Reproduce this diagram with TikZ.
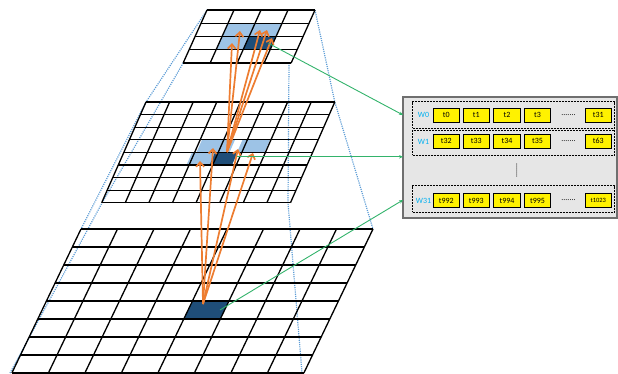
\documentclass[tikz,border=0pt]{standalone}
\usepackage{fontspec}
\setmainfont{Carlito}
\usetikzlibrary{arrows.meta}
\definecolor{lb}{HTML}{9DC3E6}
\definecolor{db}{HTML}{1F4E79}
\definecolor{org}{HTML}{ED7D31}
\definecolor{grn}{HTML}{33B36B}
\definecolor{dotb}{HTML}{5B9BD5}
\definecolor{wlab}{HTML}{00B0F0}
\definecolor{boxg}{HTML}{E6E6E6}
\definecolor{boxb}{HTML}{6F6F6F}
\newcommand{\slgrid}[7]{%
 \foreach \i in {0,...,#7}{\draw[gridline] ({#1-#5*\i*#4},{#2+\i*#4}) -- ({#1-#5*\i*#4+#6*#3},{#2+\i*#4});}
 \foreach \j in {0,...,#6}{\draw[gridline] ({#1+\j*#3},{#2}) -- ({#1+\j*#3-#5*#7*#4},{#2+#7*#4});}
}
\newcommand{\slcell}[8]{%
 \fill[#1] ({#2+#7*#4-#6*#8*#5},{#3+#8*#5}) -- ({#2+(#7+1)*#4-#6*#8*#5},{#3+#8*#5}) -- ({#2+(#7+1)*#4-#6*(#8+1)*#5},{#3+(#8+1)*#5}) -- ({#2+#7*#4-#6*(#8+1)*#5},{#3+(#8+1)*#5}) -- cycle;}
\begin{document}
\begin{tikzpicture}[x=1pt,y=-1pt,
  gridline/.style={line width=1.3pt,black},
  dotline/.style={dotb,line width=1.2pt,dash pattern=on 1.1pt off 1.1pt},
  orarrow/.style={org,line width=1.7pt,-{Straight Barb[length=4.5pt,width=8pt]}},
  grarrow/.style={grn,line width=0.9pt,-{Stealth[length=4pt,width=3.5pt]}},
  outerbox/.style={draw=boxb,fill=boxg,line width=1.3pt,minimum width=214pt,minimum height=121pt,inner sep=0pt},
  rowbox/.style={draw=black,dashed,line width=0.9pt,dash pattern=on 2pt off 1pt,minimum width=202pt,inner sep=0pt},
  tbox/.style={draw=black,fill=yellow,line width=0.9pt,minimum width=26.3pt,minimum height=14pt,inner sep=0pt,font=\fontsize{8}{9}\selectfont},
  wlabel/.style={text=wlab,inner sep=0pt,font=\fontsize{8}{9}\selectfont},
  dotstext/.style={inner sep=0pt,font=\fontsize{8}{9}\selectfont}]
\useasboundingbox (0,0) rectangle (618,373);
% pyramid corner coordinates
\coordinate (tTL) at (207,10);  \coordinate (tTR) at (315,10);
\coordinate (tBL) at (183.2,63); \coordinate (tBR) at (289,63);
\coordinate (mTL) at (146,102); \coordinate (mTR) at (334.8,102);
\coordinate (mBL) at (102,203); \coordinate (mBR) at (288,203);
\coordinate (bTL) at (81,229);  \coordinate (bTR) at (373,229);
\coordinate (bBL) at (10,373);  \coordinate (bBR) at (302,373);
% dotted pyramid lines
\draw[dotline] (tTL) -- (mTL) -- (bTL);
\draw[dotline] (tBL) -- (mBL) -- (bBL);
\draw[dotline] (tTR) -- (mTR) -- (bTR);
\draw[dotline] (tBR) -- (mBR) -- (bBR);
% highlights top grid
\slcell{lb}{207}{10}{27}{13.25}{0.45}{1}{1}
\slcell{lb}{207}{10}{27}{13.25}{0.45}{2}{1}
\slcell{lb}{207}{10}{27}{13.25}{0.45}{1}{2}
\slcell{db}{207}{10}{27}{13.25}{0.45}{2}{2}
% highlights middle grid
\fill[lb] (202,139.8) -- (235,139.8) -- (229.5,152.4) -- (196.5,152.4) -- cycle;
\fill[lb] (242.5,139.8) -- (270,139.8) -- (264.5,152.4) -- (237,152.4) -- cycle;
\fill[lb] (192,152.4) -- (215,152.4) -- (209.5,165) -- (186.5,165) -- cycle;
\fill[db] (215,152.4) -- (237.5,152.4) -- (232,165) -- (209.5,165) -- cycle;
% highlight bottom grid
\slcell{db}{81}{229}{36.5}{18}{0.48}{4}{4}
% grids
\slgrid{207}{10}{27}{13.25}{0.45}{4}{4}
\slgrid{146}{102}{23.6}{12.6}{0.44}{8}{8}
\slgrid{81}{229}{36.5}{18}{0.48}{8}{8}
% orange arrows
\coordinate (bt) at (203,304);
\coordinate (mt) at (227,152);
\coordinate (m1) at (200,161);
\coordinate (m2) at (213,148);
\coordinate (m3) at (238,149);
\coordinate (m4) at (253,153);
\coordinate (t1) at (240,31);
\coordinate (t2) at (232,43);
\coordinate (t3) at (260,30);
\coordinate (t4) at (267,30);
\coordinate (t5) at (272,38);
\foreach \h in {m1,m2,m3,m4} \draw[orarrow] (bt) -- (\h);
\foreach \h in {t1,t2,t3,t4,t5} \draw[orarrow] (mt) -- (\h);
% right box
\node[outerbox] (box) at (510,157.5) {};
\node[rowbox,minimum height=26.6pt] (r0) at (513.6,115) {};
\node[rowbox,minimum height=25pt] (r1) at (513.6,142.5) {};
\node[rowbox,minimum height=26.6pt] (r31) at (513.6,199) {};
\node[wlabel] (w0) at (423.5,115) {W0};
\node[wlabel] (w1) at (423.5,141.5) {W1};
\node[wlabel] (w31) at (423.5,200.5) {W31};
\node[tbox] (a0) at (446.3,115.3) {t0};
\node[tbox] (a1) at (476.3,115.3) {t1};
\node[tbox] (a2) at (507,115.3) {t2};
\node[tbox] (a3) at (537.5,115.3) {t3};
\node[dotstext] (ad) at (568.5,115.3) {.......};
\node[tbox] (a31) at (598.3,115.3) {t31};
\node[tbox] (b0) at (446.3,141.3) {t32};
\node[tbox] (b1) at (476.3,141.3) {t33};
\node[tbox] (b2) at (507,141.3) {t34};
\node[tbox] (b3) at (537.5,141.3) {t35};
\node[dotstext] (bd) at (568.5,141.3) {.......};
\node[tbox] (b31) at (598.3,141.3) {t63};
\node[tbox] (c0) at (446.3,200.5) {t992};
\node[tbox] (c1) at (476.3,200.5) {t993};
\node[tbox] (c2) at (507,200.5) {t994};
\node[tbox] (c3) at (537.5,200.5) {t995};
\node[dotstext] (cd) at (568.5,200.5) {.......};
\node[tbox,font=\fontsize{6.5}{7}\selectfont] (c31) at (598.3,200.5) {t1023};
\node[dotstext,rotate=-90] (vd) at (516.7,170.5) {.......};
% green arrows
\coordinate (g1s) at (268.5,43.3);
\coordinate (g2s) at (237,156.8);
\coordinate (g3s) at (220,310);
\coordinate (g1e) at (403,115);
\coordinate (g2e) at (403,156.8);
\coordinate (g3e) at (403,200);
\draw[grarrow] (g1s) -- (g1e);
\draw[grarrow] (g2s) -- (g2e);
\draw[grarrow] (g3s) -- (g3e);
\end{tikzpicture}
\end{document}
